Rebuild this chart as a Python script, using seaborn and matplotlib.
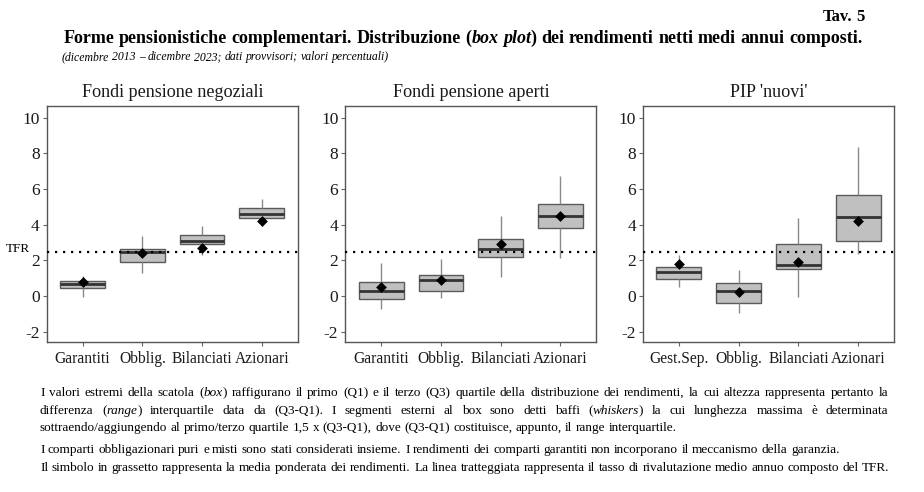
import numpy as np
import pandas as pd
import matplotlib
matplotlib.use("Agg")
import matplotlib.pyplot as plt
import seaborn as sns

# ---------------- data ----------------
panel_titles = ["Fondi pensione negoziali", "Fondi pensione aperti", "PIP 'nuovi'"]

cats_fpn = ["Garantiti", "Obblig.", "Bilanciati", "Azionari"]
cats_fpa = ["Garantiti", "Obblig.", "Bilanciati", "Azionari"]
cats_pip = ["Gest.Sep.", "Obblig.", "Bilanciati", "Azionari"]

# whisker low, Q1, median, Q3, whisker high, weighted mean
fpn_wlo = [-0.06, 1.30, 2.27, 3.93]
fpn_q1 = [0.43, 1.92, 2.89, 4.39]
fpn_med = [0.69, 2.46, 3.09, 4.60]
fpn_q3 = [0.82, 2.63, 3.43, 4.92]
fpn_whi = [1.12, 3.35, 3.93, 5.46]
fpn_mean = [0.78, 2.40, 2.70, 4.21]

fpa_wlo = [-0.73, -0.13, 1.06, 2.12]
fpa_q1 = [-0.15, 0.30, 2.20, 3.80]
fpa_med = [0.26, 0.89, 2.63, 4.47]
fpa_q3 = [0.80, 1.17, 3.18, 5.14]
fpa_whi = [1.86, 2.07, 4.51, 6.72]
fpa_mean = [0.48, 0.89, 2.90, 4.49]

pip_wlo = [0.52, -0.97, -0.07, 2.35]
pip_q1 = [0.95, -0.37, 1.49, 3.07]
pip_med = [1.36, 0.30, 1.75, 4.43]
pip_q3 = [1.62, 0.73, 2.92, 5.66]
pip_whi = [2.27, 1.43, 4.39, 8.36]
pip_mean = [1.81, 0.20, 1.92, 4.21]

tfr = 2.44
yticks = [-2, 0, 2, 4, 6, 8, 10]

title = "Forme pensionistiche complementari. Distribuzione (_box plot_) dei rendimenti netti medi annui composti."
subtitle = "(dicembre 2013 \u2013 dicembre 2023; dati provvisori; valori percentuali)"
tav = "Tav. 5"
notes = [
    ("I valori estremi della scatola (_box_) raffigurano il primo (Q1) e il terzo (Q3) quartile della distribuzione dei rendimenti, la cui altezza rappresenta pertanto la", "justify"),
    ("differenza (_range_) interquartile data da (Q3-Q1). I segmenti esterni al box sono detti baffi (_whiskers_) la cui lunghezza massima \u00e8 determinata", "justify"),
    ("sottraendo/aggiungendo al primo/terzo quartile 1,5 x (Q3-Q1), dove (Q3-Q1) costituisce, appunto, il range interquartile.", "left"),
    ("I comparti obbligazionari puri e misti sono stati considerati insieme. I rendimenti dei comparti garantiti non incorporano il meccanismo della garanzia.", "left"),
    ("Il simbolo in grassetto rappresenta la media ponderata dei rendimenti. La linea tratteggiata rappresenta il tasso di rivalutazione medio annuo composto del TFR.", "left"),
]

panels = [
    (cats_fpn, fpn_wlo, fpn_q1, fpn_med, fpn_q3, fpn_whi, fpn_mean),
    (cats_fpa, fpa_wlo, fpa_q1, fpa_med, fpa_q3, fpa_whi, fpa_mean),
    (cats_pip, pip_wlo, pip_q1, pip_med, pip_q3, pip_whi, pip_mean),
]

# ---------------- style ----------------
sns.set_theme(style="white")
SERIF = ["Liberation Serif", "DejaVu Serif"]
plt.rcParams["font.family"] = SERIF

W, H = 924, 492
fig = plt.figure(figsize=(W / 100, H / 100), dpi=100)

ax_lefts = [46.7, 345.3, 643.0]
ax_w = 251.0
ax_top, ax_bot = 105.7, 342.3

INK = "#1a1a1a"

for i, (cats, wlo, q1, med, q3, whi, mean) in enumerate(panels):
    ax = fig.add_axes([ax_lefts[i] / W, 1 - ax_bot / H, ax_w / W, (ax_bot - ax_top) / H])
    rows = []
    for c, a, b, m, d, e in zip(cats, wlo, q1, med, q3, whi):
        for v in (a, b, m, d, e):
            rows.append({"cat": c, "val": v})
    df = pd.DataFrame(rows)
    sns.boxplot(data=df, x="cat", y="val", order=cats, whis=(0, 100), width=0.75,
                color="#c0c0c0", saturation=1, linecolor="#5a5a5a", linewidth=1.0,
                showcaps=False,
                medianprops={"color": "#333333", "linewidth": 2.0},
                whiskerprops={"color": "#8a8a8a", "linewidth": 1.0},
                ax=ax)
    ax.axhline(tfr, color="black", linestyle=(0, (1, 2.6)), linewidth=1.6, zorder=4)
    sns.stripplot(x=cats, y=mean, order=cats, marker="D", color="black", jitter=False,
                  size=5.5, ax=ax, zorder=6)
    ax.set_xlim(-0.6, 3.6)
    ax.set_ylim(-2.6, 10.67)
    ax.set_yticks(yticks)
    ax.set_yticklabels([str(t) for t in yticks])
    ax.set_xlabel("")
    ax.set_ylabel("")
    ax.set_title(panel_titles[i], fontsize=13.1, color=INK, pad=6.5)
    for s in ax.spines.values():
        s.set_color("#555555")
        s.set_linewidth(1.0)
    ax.tick_params(axis="both", length=3, width=0.8, color="#666666",
                   labelcolor=INK, pad=2, left=True, bottom=True)
    ax.tick_params(axis="y", labelsize=12.5)
    ax.tick_params(axis="x", labelsize=11.2, pad=3)
    ax.grid(False)

# ---------------- rich text helper ----------------
def parse(line):
    words, cur, buf, ital = [], [], "", False
    for ch in line:
        if ch == "_":
            if buf:
                cur.append((buf, ital)); buf = ""
            ital = not ital
        elif ch == " ":
            if buf:
                cur.append((buf, ital)); buf = ""
            if cur:
                words.append(cur); cur = []
        else:
            buf += ch
    if buf:
        cur.append((buf, ital))
    if cur:
        words.append(cur)
    return words


renderer = fig.canvas.get_renderer()


def rich_line(line, x_px, y_px, size, weight="normal", align="left", x_right=None, base_italic=False):
    words = parse(line)

    def mk(s, it):
        style = "italic" if (it != base_italic) else "normal"
        return fig.text(0, 1 - y_px / H, s, fontsize=size, fontweight=weight, fontstyle=style,
                        ha="left", va="baseline", color="black", family=SERIF)

    t1 = mk("a a", False); t2 = mk("aa", False)
    sp = t1.get_window_extent(renderer).width - t2.get_window_extent(renderer).width
    t1.remove(); t2.remove()
    groups, widths = [], []
    for w in words:
        g, tot = [], 0
        for s, it in w:
            t = mk(s, it)
            ww = t.get_window_extent(renderer).width
            g.append((t, ww)); tot += ww
        groups.append(g); widths.append(tot)
    total = sum(widths) + sp * (len(words) - 1)
    gap = sp
    if align == "justify":
        gap = (x_right - x_px - sum(widths)) / (len(words) - 1)
        x = x_px
    elif align == "center":
        x = x_px - total / 2
    elif align == "right":
        x = x_px - total
    else:
        x = x_px
    for g in groups:
        for t, ww in g:
            t.set_x(x / W); x += ww
        x += gap


rich_line(tav, 865, 21, 12, weight="bold", align="right")
rich_line(title, 463, 43, 13.0, weight="bold", align="center")
rich_line(subtitle, 62, 60, 8.5, base_italic=True)

fig.text(6 / W, 1 - 252 / H, "TFR", fontsize=9.5, ha="left", va="baseline", color="black", family=SERIF)

note_y = [396, 414, 431, 453, 471]
for (txt, al), y in zip(notes, note_y):
    rich_line(txt, 40, y, 9.5, align=al, x_right=888)

fig.savefig("out.png", dpi=100)
